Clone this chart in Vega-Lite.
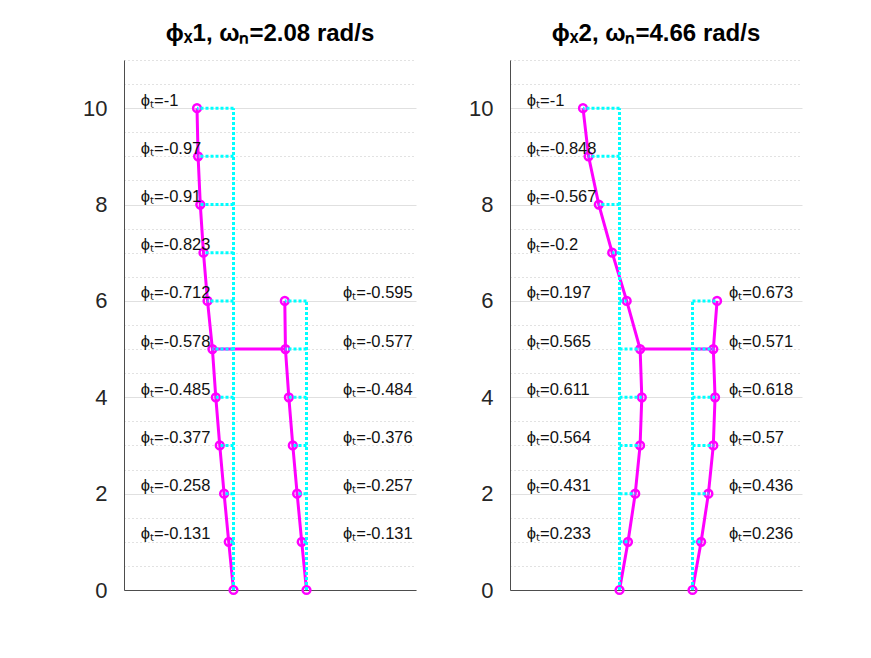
{
  "$schema": "https://vega.github.io/schema/vega-lite/v6.json",
  "background": "white",
  "padding": {"left": 82, "top": 22, "right": 20, "bottom": 20},
  "spacing": 52,
  "config": {
    "font": "Liberation Sans",
    "view": {"stroke": null},
    "title": {"fontSize": 24, "fontWeight": "bold", "color": "#000000", "font": "Liberation Sans", "offset": 14}
  },
  "data": {
    "values": [
      {"panel": 1, "base": 0, "y": 0, "phi": 0},
      {"panel": 1, "base": 0, "y": 1, "phi": -0.131},
      {"panel": 1, "base": 0, "y": 2, "phi": -0.258},
      {"panel": 1, "base": 0, "y": 3, "phi": -0.377},
      {"panel": 1, "base": 0, "y": 4, "phi": -0.485},
      {"panel": 1, "base": 0, "y": 5, "phi": -0.578},
      {"panel": 1, "base": 0, "y": 6, "phi": -0.712},
      {"panel": 1, "base": 0, "y": 7, "phi": -0.823},
      {"panel": 1, "base": 0, "y": 8, "phi": -0.91},
      {"panel": 1, "base": 0, "y": 9, "phi": -0.97},
      {"panel": 1, "base": 0, "y": 10, "phi": -1},
      {"panel": 1, "base": 1, "y": 0, "phi": 0},
      {"panel": 1, "base": 1, "y": 1, "phi": -0.131},
      {"panel": 1, "base": 1, "y": 2, "phi": -0.257},
      {"panel": 1, "base": 1, "y": 3, "phi": -0.376},
      {"panel": 1, "base": 1, "y": 4, "phi": -0.484},
      {"panel": 1, "base": 1, "y": 5, "phi": -0.577},
      {"panel": 1, "base": 1, "y": 6, "phi": -0.595},
      {"panel": 2, "base": 0, "y": 0, "phi": 0},
      {"panel": 2, "base": 0, "y": 1, "phi": 0.233},
      {"panel": 2, "base": 0, "y": 2, "phi": 0.431},
      {"panel": 2, "base": 0, "y": 3, "phi": 0.564},
      {"panel": 2, "base": 0, "y": 4, "phi": 0.611},
      {"panel": 2, "base": 0, "y": 5, "phi": 0.565},
      {"panel": 2, "base": 0, "y": 6, "phi": 0.197},
      {"panel": 2, "base": 0, "y": 7, "phi": -0.2},
      {"panel": 2, "base": 0, "y": 8, "phi": -0.567},
      {"panel": 2, "base": 0, "y": 9, "phi": -0.848},
      {"panel": 2, "base": 0, "y": 10, "phi": -1},
      {"panel": 2, "base": 1, "y": 0, "phi": 0},
      {"panel": 2, "base": 1, "y": 1, "phi": 0.236},
      {"panel": 2, "base": 1, "y": 2, "phi": 0.436},
      {"panel": 2, "base": 1, "y": 3, "phi": 0.57},
      {"panel": 2, "base": 1, "y": 4, "phi": 0.618},
      {"panel": 2, "base": 1, "y": 5, "phi": 0.571},
      {"panel": 2, "base": 1, "y": 6, "phi": 0.673}
    ]
  },
  "hconcat": [
    {
      "width": 292,
      "height": 530,
      "title": "ϕₓ1, ωₙ=2.08 rad/s",
      "transform": [
        {"filter": "datum.panel == 1"},
        {"calculate": "datum.base + datum.phi / 2", "as": "xd"},
        {"calculate": "'ϕₜ=' + datum.phi", "as": "lab"}
      ],
      "encoding": {
        "y": {
          "field": "y", "type": "quantitative",
          "scale": {"domain": [0, 11], "nice": false, "zero": false},
          "axis": {
            "title": null,
            "values": [0,0.5,1,1.5,2,2.5,3,3.5,4,4.5,5,5.5,6,6.5,7,7.5,8,8.5,9,9.5,10,10.5,11],
            "labelExpr": "datum.value % 2 === 0 && datum.value <= 10 ? '' + datum.value : ''",
            "labelFontSize": 22, "labelColor": "#262626", "labelPadding": 17,
            "ticks": false,
            "domainColor": "#4d4d4d", "domainWidth": 1,
            "grid": true,
            "gridColor": {"condition": {"test": "datum.value % 2 === 0 && datum.value <= 10", "value": "#e0e0e0"}, "value": "#c4c4c4"},
            "gridDash": {"condition": {"test": "datum.value % 2 === 0 && datum.value <= 10", "value": []}, "value": [1, 3]},
            "gridWidth": 1
          }
        }
      },
      "layer": [
        {
          "mark": {"type": "line", "color": "#ff00ff", "strokeWidth": 3},
          "encoding": {
            "x": {"field": "xd", "type": "quantitative", "scale": {"domain": [-1.5, 2.5], "nice": false, "zero": false},
                  "axis": {"title": null, "labels": false, "ticks": false, "grid": false, "domainColor": "#4d4d4d", "domainWidth": 1}},
            "detail": {"field": "base"},
            "order": {"field": "y"}
          }
        },
        {
          "transform": [{"filter": "datum.y == 5"}],
          "mark": {"type": "line", "color": "#ff00ff", "strokeWidth": 3},
          "encoding": {
            "x": {"field": "xd", "type": "quantitative"},
            "order": {"field": "base"}
          }
        },
        {
          "mark": {"type": "point", "shape": "circle", "filled": false, "color": "#ff00ff", "strokeWidth": 2.5, "size": 60, "opacity": 1},
          "encoding": {"x": {"field": "xd", "type": "quantitative"}}
        },
        {
          "mark": {"type": "line", "color": "#00ffff", "strokeWidth": 3, "strokeDash": [3, 2]},
          "encoding": {
            "x": {"field": "base", "type": "quantitative"},
            "detail": {"field": "base"},
            "order": {"field": "y"}
          }
        },
        {
          "mark": {"type": "rule", "color": "#00ffff", "strokeWidth": 3, "strokeDash": [3, 2]},
          "encoding": {
            "x": {"field": "base", "type": "quantitative"},
            "x2": {"field": "xd"}
          }
        },
        {
          "transform": [{"filter": "datum.y > 0 && datum.base == 0"}],
          "mark": {"type": "text", "align": "left", "baseline": "alphabetic", "dy": -2.5, "fontSize": 16.5, "color": "#111111"},
          "encoding": {"x": {"datum": -1.27}, "text": {"field": "lab"}}
        },
        {
          "transform": [{"filter": "datum.y > 0 && datum.base == 1"}],
          "mark": {"type": "text", "align": "left", "baseline": "alphabetic", "dy": -2.5, "fontSize": 16.5, "color": "#111111"},
          "encoding": {"x": {"datum": 1.5}, "text": {"field": "lab"}}
        }
      ]
    },
    {
      "width": 292,
      "height": 530,
      "title": "ϕₓ2, ωₙ=4.66 rad/s",
      "transform": [
        {"filter": "datum.panel == 2"},
        {"calculate": "datum.base + datum.phi / 2", "as": "xd"},
        {"calculate": "'ϕₜ=' + datum.phi", "as": "lab"}
      ],
      "encoding": {
        "y": {
          "field": "y", "type": "quantitative",
          "scale": {"domain": [0, 11], "nice": false, "zero": false},
          "axis": {
            "title": null,
            "values": [0,0.5,1,1.5,2,2.5,3,3.5,4,4.5,5,5.5,6,6.5,7,7.5,8,8.5,9,9.5,10,10.5,11],
            "labelExpr": "datum.value % 2 === 0 && datum.value <= 10 ? '' + datum.value : ''",
            "labelFontSize": 22, "labelColor": "#262626", "labelPadding": 17,
            "ticks": false,
            "domainColor": "#4d4d4d", "domainWidth": 1,
            "grid": true,
            "gridColor": {"condition": {"test": "datum.value % 2 === 0 && datum.value <= 10", "value": "#e0e0e0"}, "value": "#c4c4c4"},
            "gridDash": {"condition": {"test": "datum.value % 2 === 0 && datum.value <= 10", "value": []}, "value": [1, 3]},
            "gridWidth": 1
          }
        }
      },
      "layer": [
        {
          "mark": {"type": "line", "color": "#ff00ff", "strokeWidth": 3},
          "encoding": {
            "x": {"field": "xd", "type": "quantitative", "scale": {"domain": [-1.5, 2.5], "nice": false, "zero": false},
                  "axis": {"title": null, "labels": false, "ticks": false, "grid": false, "domainColor": "#4d4d4d", "domainWidth": 1}},
            "detail": {"field": "base"},
            "order": {"field": "y"}
          }
        },
        {
          "transform": [{"filter": "datum.y == 5"}],
          "mark": {"type": "line", "color": "#ff00ff", "strokeWidth": 3},
          "encoding": {
            "x": {"field": "xd", "type": "quantitative"},
            "order": {"field": "base"}
          }
        },
        {
          "mark": {"type": "point", "shape": "circle", "filled": false, "color": "#ff00ff", "strokeWidth": 2.5, "size": 60, "opacity": 1},
          "encoding": {"x": {"field": "xd", "type": "quantitative"}}
        },
        {
          "mark": {"type": "line", "color": "#00ffff", "strokeWidth": 3, "strokeDash": [3, 2]},
          "encoding": {
            "x": {"field": "base", "type": "quantitative"},
            "detail": {"field": "base"},
            "order": {"field": "y"}
          }
        },
        {
          "mark": {"type": "rule", "color": "#00ffff", "strokeWidth": 3, "strokeDash": [3, 2]},
          "encoding": {
            "x": {"field": "base", "type": "quantitative"},
            "x2": {"field": "xd"}
          }
        },
        {
          "transform": [{"filter": "datum.y > 0 && datum.base == 0"}],
          "mark": {"type": "text", "align": "left", "baseline": "alphabetic", "dy": -2.5, "fontSize": 16.5, "color": "#111111"},
          "encoding": {"x": {"datum": -1.27}, "text": {"field": "lab"}}
        },
        {
          "transform": [{"filter": "datum.y > 0 && datum.base == 1"}],
          "mark": {"type": "text", "align": "left", "baseline": "alphabetic", "dy": -2.5, "fontSize": 16.5, "color": "#111111"},
          "encoding": {"x": {"datum": 1.5}, "text": {"field": "lab"}}
        }
      ]
    }
  ]
}
